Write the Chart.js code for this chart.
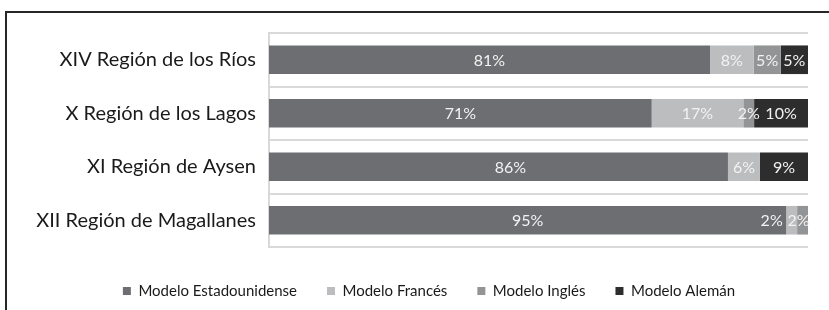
<!DOCTYPE html>
<html>
<head>
<meta charset="utf-8">
<script src="https://cdn.jsdelivr.net/npm/chart.js@4/dist/chart.umd.min.js"></script>
<style>
  html, body { margin: 0; padding: 0; background: #fff; }
  #wrap { position: relative; width: 829px; height: 310px; overflow: hidden; }
  #c { position: absolute; left: 0; top: 0; }
  #frame { position: absolute; left: 5px; top: 11px; width: 900px; height: 400px;
           border-left: 2px solid #262626; border-top: 2px solid #262626; pointer-events: none; }
</style>
</head>
<body>
<div id="wrap">
  <canvas id="c" width="829" height="310"></canvas>
  <div id="frame"></div>
</div>
<script>
const categories = ['XIV Región de los Ríos', 'X Región de los Lagos', 'XI Región de Aysen', 'XII Región de Magallanes'];
const seriesNames = ['Modelo Estadounidense', 'Modelo Francés', 'Modelo Inglés', 'Modelo Alemán'];
const estadounidense = [81, 71, 86, 95];
const frances = [8, 17, 6, 2];
const ingles = [5, 2, 0, 2];
const aleman = [5, 10, 9, 0];
const seriesColors = ['#6d6e71', '#bcbdbf', '#939496', '#2d2d2d'];

const raw = [estadounidense, frances, ingles, aleman];
const totals = categories.map((_, i) => raw.reduce((s, arr) => s + arr[i], 0));

const FONT = 'Lato';

const datasets = raw.map((arr, k) => ({
  label: seriesNames[k],
  data: arr.map((v, i) => v / totals[i] * 100),
  rawValues: arr,
  backgroundColor: seriesColors[k],
  borderWidth: 0
}));

// label nudges for crowded small segments (dataset index, category index) -> px
const labelNudge = { '0-2': 12, '1-3': -20, '2-3': -4 };

const segLabels = {
  id: 'segLabels',
  afterDatasetsDraw(chart) {
    const ctx = chart.ctx;
    ctx.save();
    ctx.font = '16px ' + FONT;
    ctx.fillStyle = '#f2f2f2';
    ctx.textAlign = 'center';
    ctx.textBaseline = 'middle';
    chart.data.datasets.forEach((ds, k) => {
      const meta = chart.getDatasetMeta(k);
      meta.data.forEach((bar, i) => {
        const v = ds.rawValues[i];
        if (!v) return;
        const left = Math.min(bar.x, bar.base), right = Math.max(bar.x, bar.base);
        const cx = (left + right) / 2 + (labelNudge[k + '-' + i] || 0);
        ctx.fillText(v + '%', cx, bar.y + 1);
      });
    });
    ctx.restore();
  }
};

const legendShift = {
  id: 'legendShift',
  afterLayout(chart) {
    const lg = chart.legend;
    if (!lg) return;
    const dx = 429 - (lg.left + lg.right) / 2;
    const dy = 291 - (lg.top + lg.options.labels.padding + 7.5);
    lg.left += dx; lg.right += dx;
    lg.top += dy; lg.bottom += dy;
  }
};

new Chart(document.getElementById('c'), {
  type: 'bar',
  data: { labels: categories, datasets },
  options: {
    indexAxis: 'y',
    responsive: false,
    animation: false,
    devicePixelRatio: 1,
    layout: { padding: { top: 33, right: 21, bottom: 8, left: 0 } },
    scales: {
      x: {
        stacked: true, min: 0, max: 100, display: false
      },
      y: {
        stacked: true,
        categoryPercentage: 1,
        afterFit(scale) { scale.width = 269; },
        grid: { color: '#d9d9d9', lineWidth: 2, drawTicks: false, offset: true },
        border: { display: true, color: '#d9d9d9', width: 2 },
        ticks: { color: '#1a1a1a', font: { family: FONT, size: 20 }, padding: 13 }
      }
    },
    datasets: { bar: { barPercentage: 0.535, categoryPercentage: 1 } },
    plugins: {
      tooltip: { enabled: false },
      legend: {
        position: 'bottom',
        labels: {
          color: '#1a1a1a',
          font: { family: FONT, size: 15 },
          boxWidth: 8, boxHeight: 8,
          padding: 30
        }
      }
    }
  },
  plugins: [segLabels, legendShift]
});
</script>
</body>
</html>
